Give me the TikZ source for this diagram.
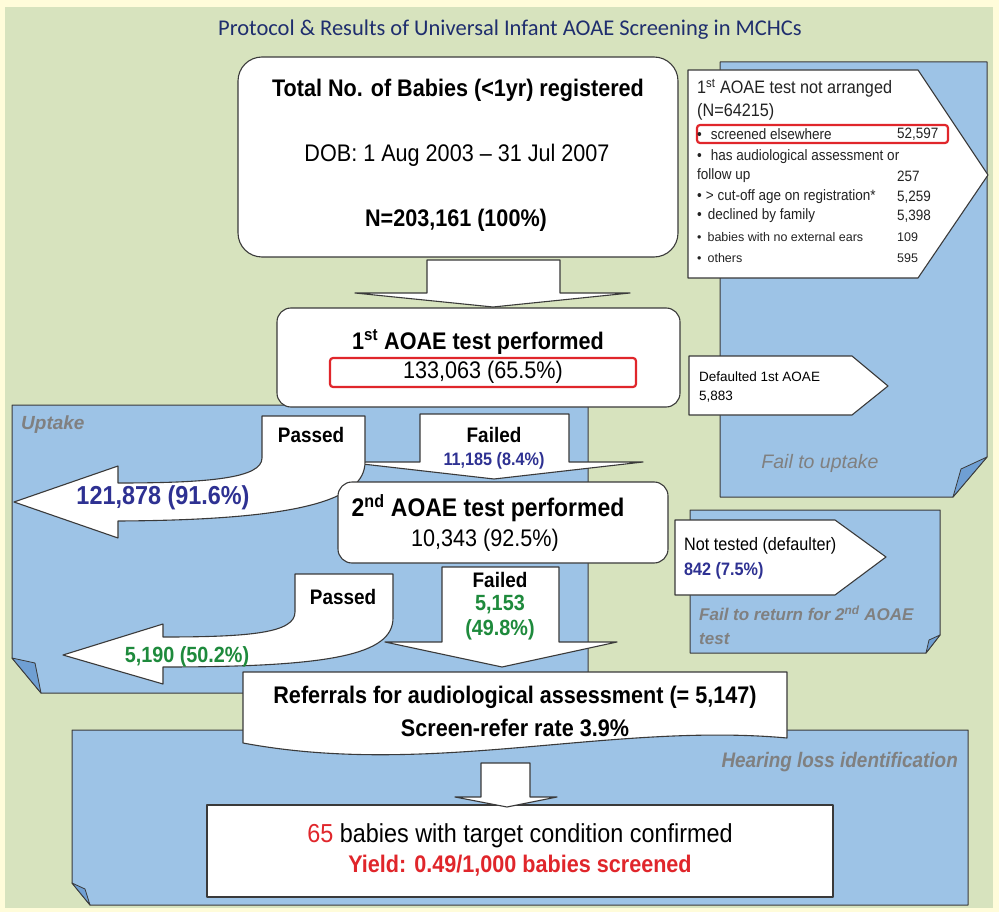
\documentclass[tikz,border=0pt]{standalone}
\usepackage{fontspec}
\setmainfont{Liberation Sans}
\newfontfamily\narrowfont[FakeStretch=0.9]{Liberation Sans}
\newfontfamily\titlefont{Carlito}
\usepackage{tikz}
\usetikzlibrary{positioning}

\definecolor{outerbg}{HTML}{FFFCDA}
\definecolor{panelgreen}{HTML}{D7E3BE}
\definecolor{panelblue}{HTML}{9DC3E6}
\definecolor{foldblue}{HTML}{6F9FD3}
\definecolor{titleblue}{HTML}{1F2E6E}
\definecolor{numblue}{HTML}{2E3192}
\definecolor{numgreen}{HTML}{1E8A3C}
\definecolor{numred}{HTML}{E0262B}
\definecolor{labelgray}{HTML}{808080}
\definecolor{edgegray}{HTML}{3A3A3A}
\definecolor{listgray}{HTML}{222222}

\begin{document}
\begin{tikzpicture}[x=1pt,y=-1pt,line join=round,
  every node/.style={inner sep=0pt},
  panel/.style={fill=panelblue,draw=edgegray,line width=1pt},
  fold/.style={fill=foldblue,draw=edgegray,line width=0.8pt},
  roundbox/.style={draw=edgegray,fill=white,line width=1.1pt,rounded corners=14pt},
  blockarrow/.style={draw=edgegray,fill=white,line width=1.1pt},
  redframe/.style={draw=numred,line width=2.2pt,rounded corners=3pt},
  bigbold/.style={font=\narrowfont\bfseries\fontsize{24}{28}\selectfont},
  bigplain/.style={font=\narrowfont\fontsize{24}{28}\selectfont},
  passfail/.style={font=\narrowfont\bfseries\fontsize{21}{24}\selectfont},
  listtext/.style={anchor=west,text=listgray,font=\narrowfont\fontsize{15}{17}\selectfont},
  smalllist/.style={anchor=west,text=listgray,font=\fontsize{12.5}{14}\selectfont},
  paneltag/.style={text=labelgray,font=\bfseries\itshape\fontsize{19}{22}\selectfont}]

  \fill[outerbg] (0,0) rectangle (999,912);
  \useasboundingbox (0,0) rectangle (999,912);
  \fill[panelgreen] (5,7) rectangle (993,908);

  \node[font=\titlefont\fontsize{22.5}{26}\selectfont,text=titleblue] (title) at (510,30)
    {Protocol \& Results of Universal Infant AOAE Screening in MCHCs};

  \draw[panel] (720,62) -- (987,62) -- (987,457) -- (953,497) -- (720,497) -- cycle;
  \draw[fold] (987,457) -- (961,469) -- (953,497) -- cycle;
  \draw[panel] (690,510) -- (940,510) -- (940,635) -- (926,653) -- (690,653) -- cycle;
  \draw[fold] (940,635) -- (929,640) -- (926,653) -- cycle;
  \draw[panel] (12,405) -- (588,405) -- (588,693) -- (41,693) -- (12,658) -- cycle;
  \draw[fold] (12,658) -- (35,663) -- (41,693) -- cycle;
  \draw[panel] (72,730) -- (968,730) -- (968,905) -- (90,905) -- (72,883) -- cycle;
  \draw[fold] (72,883) -- (85,889) -- (90,905) -- cycle;

  \node[paneltag,anchor=west] (uptaketag) at (21,425) {Uptake};
  \node[text=labelgray,font=\itshape\fontsize{19.5}{22}\selectfont] (failuptaketag) at (820,463) {Fail to uptake};
  \node[paneltag,font=\bfseries\itshape\fontsize{17}{24}\selectfont,anchor=west,align=left] (failreturntag) at (699,625)
    {Fail to return for 2\textsuperscript{nd} AOAE\\test};
  \node[paneltag,font=\narrowfont\bfseries\itshape\fontsize{21}{24}\selectfont,anchor=east] (hearingtag) at (958,762)
    {Hearing loss identification};

  \node[roundbox,rounded corners=24pt,minimum width=440,minimum height=200] (total) at (458,157) {};
  \node[bigbold] (totaltitle) at (458,90) {Total No. of Babies (<1yr) registered};
  \node[bigplain] (dob) at (457,155) {DOB: 1 Aug 2003 – 31 Jul 2007};
  \node[bigbold] (totaln) at (456,220) {N=203,161 (100\%)};

  \draw[blockarrow] (427,260) -- (560,260) -- (560,293) -- (630,293) -- (493,307) -- (355,293) -- (427,293) -- cycle;

  \node[roundbox,minimum width=403,minimum height=99] (first) at (478.5,357.5) {};
  \node[bigbold] (firsttitle) at (478,342) {1\textsuperscript{st} AOAE test performed};
  \node[redframe,bigplain,minimum width=306,minimum height=29] (firstn) at (483,372.5) {133,063 (65.5\%)};

  \draw[blockarrow] (688,70) -- (918,70) -- (988,175) -- (918,278) -- (688,278) -- cycle;
  \draw[redframe] (697,125) rectangle (948,143);
  \node[listtext,font=\narrowfont\fontsize{18}{20}\selectfont] (notarranged) at (697,88) {1\textsuperscript{st} AOAE test not arranged};
  \node[listtext,font=\narrowfont\fontsize{18}{20}\selectfont] (notarrangedn) at (697,112) {(N=64215)};
  \node[listtext] (elsewhere) at (697,134) {•\hspace{9pt}screened elsewhere};
  \node[listtext] (elsewheren) at (897,134) {52,597};
  \node[listtext] (assessed) at (697,157) {•\hspace{9pt}has audiological assessment or};
  \node[listtext] (followup) at (697,176) {follow up};
  \node[listtext] (followupn) at (897,176) {257};
  \node[listtext] (cutoff) at (697,197) {•\hspace{4pt}> cut-off age on registration*};
  \node[listtext] (cutoffn) at (897,197) {5,259};
  \node[listtext] (declined) at (697,216) {•\hspace{6pt}declined by family};
  \node[listtext] (declinedn) at (897,216) {5,398};
  \node[smalllist] (noears) at (697,237) {•\hspace{6pt}babies with no external ears};
  \node[smalllist] (noearsn) at (897,237) {109};
  \node[smalllist] (others) at (697,258) {•\hspace{6pt}others};
  \node[smalllist] (othersn) at (897,258) {595};

  \draw[blockarrow] (689,356) -- (852,356) -- (888,386) -- (852,415) -- (689,415) -- cycle;
  \node[anchor=west,font=\fontsize{13.5}{16}\selectfont] (defaulted) at (699,377) {Defaulted 1st AOAE};
  \node[anchor=west,font=\fontsize{13.5}{16}\selectfont] (defaultedn) at (699,397) {5,883};

  \draw[blockarrow] (420,414) -- (569,414) -- (569,462) -- (643,462) -- (494,479) -- (345,462) -- (420,462) -- cycle;
  \draw[blockarrow] (262,416) -- (365,416) -- (365,462) .. controls (365,500) and (300,520) .. (118,521)
    -- (118,538) -- (14,502) -- (118,466) -- (118,483) .. controls (210,483) and (262,478) .. (262,458) -- cycle;
  \node[passfail] (failed1) at (494,435) {Failed};
  \node[passfail,font=\narrowfont\bfseries\fontsize{18}{20}\selectfont,text=numblue] (failed1n) at (494,461) {11,185 (8.4\%)};
  \node[passfail] (passed1) at (311,435) {Passed};
  \node[passfail,font=\narrowfont\bfseries\fontsize{26}{28}\selectfont,text=numblue] (passed1n) at (163,498) {121,878 (91.6\%)};

  \node[roundbox,minimum width=330,minimum height=81] (second) at (503,522.5) {};
  \node[bigbold,font=\narrowfont\bfseries\fontsize{25.5}{28}\selectfont] (secondtitle) at (488,508) {2\textsuperscript{nd} AOAE test performed};
  \node[bigplain] (secondn) at (485,540) {10,343 (92.5\%)};

  \draw[blockarrow] (675,520) -- (835,520) -- (886,557) -- (835,595) -- (675,595) -- cycle;
  \node[anchor=west,font=\narrowfont\fontsize{18}{20}\selectfont] (nottested) at (684,546) {Not tested (defaulter)};
  \node[anchor=west,font=\narrowfont\bfseries\fontsize{18}{20}\selectfont,text=numblue] (nottestedn) at (684,571) {842 (7.5\%)};

  \draw[blockarrow] (442,567) -- (559,567) -- (559,642) -- (617,642) -- (502,667) -- (385,642) -- (442,642) -- cycle;
  \draw[blockarrow] (295,574) -- (393,574) -- (393,618) .. controls (393,655) and (330,667) .. (163,667)
    -- (163,684) -- (63,655) -- (163,624) -- (163,637) .. controls (250,637) and (295,633) .. (295,612) -- cycle;
  \node[passfail] (failed2) at (500,580) {Failed};
  \node[passfail,font=\narrowfont\bfseries\fontsize{22}{24}\selectfont,text=numgreen] (failed2n) at (500,605) {5,153};
  \node[passfail,font=\narrowfont\bfseries\fontsize{22}{24}\selectfont,text=numgreen] (failed2p) at (500,630) {(49.8\%)};
  \node[passfail] (passed2) at (343,597) {Passed};
  \node[passfail,font=\narrowfont\bfseries\fontsize{22}{24}\selectfont,text=numgreen] (passed2n) at (187,657) {5,190 (50.2\%)};

  \draw[blockarrow] (243,672) -- (787,672) -- (787,738) .. controls (610,722) and (430,778) .. (243,743) -- cycle;
  \node[bigbold] (referral) at (515,697) {Referrals for audiological assessment (= 5,147)};
  \node[bigbold] (referrate) at (515,728) {Screen-refer rate 3.9\%};

  \node[draw=edgegray,fill=white,line width=1.1pt,minimum width=626,minimum height=92] (confirmed) at (520,851) {};
  \draw[blockarrow] (481,763) -- (530,763) -- (530,797) -- (557,797) -- (507,807) -- (455,797) -- (481,797) -- cycle;
  \node[font=\narrowfont\fontsize{26}{30}\selectfont] (confirmedtext) at (520,836)
    {\textcolor{numred}{65} babies with target condition confirmed};
  \node[bigbold,text=numred] (yield) at (520,866) {Yield: 0.49/1,000 babies screened};
\end{tikzpicture}
\end{document}
